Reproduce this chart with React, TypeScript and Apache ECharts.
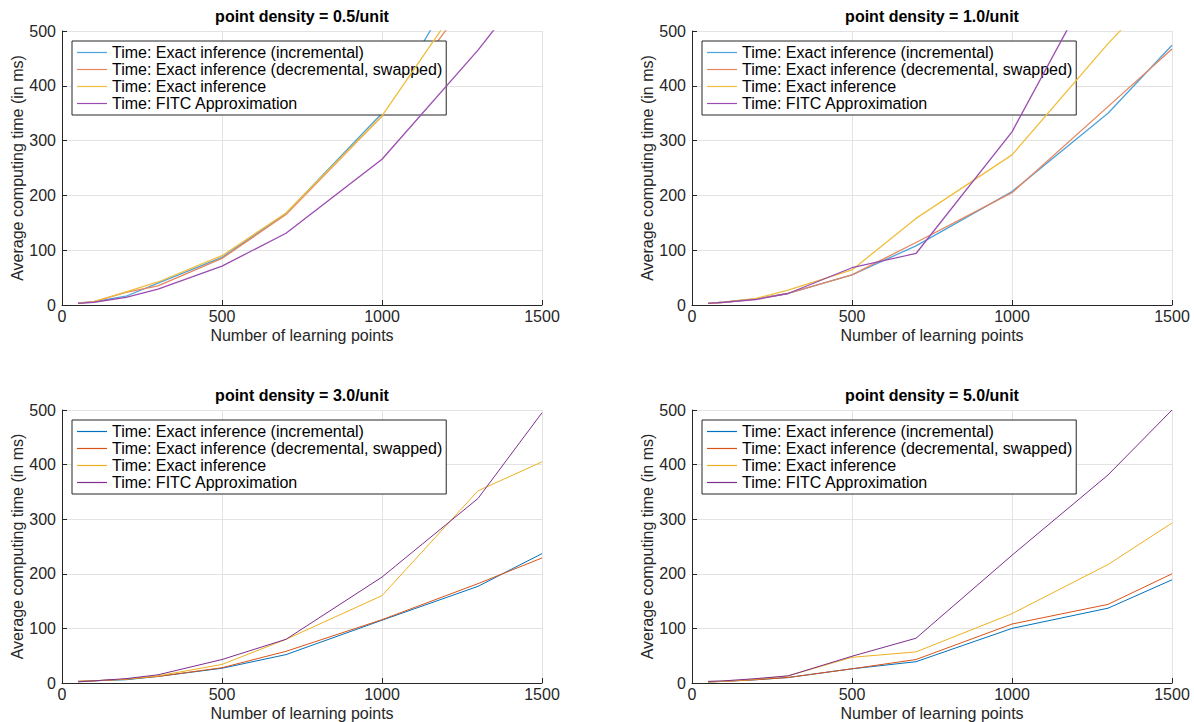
import React, { useEffect, useRef } from "react";
import * as echarts from "echarts";

const xPoints = [50, 100, 200, 300, 500, 700, 1000, 1300, 1500];
const seriesNames = [
  "Time: Exact inference (incremental)",
  "Time: Exact inference (decremental, swapped)",
  "Time: Exact inference",
  "Time: FITC Approximation",
];
const panelTitles = [
  "point density = 0.5/unit",
  "point density = 1.0/unit",
  "point density = 3.0/unit",
  "point density = 5.0/unit",
];
const xTicks = [0, 500, 1000, 1500];
const yTicks = [0, 100, 200, 300, 400, 500];

// density 0.5
const inc05 = [4, 6, 16, 40, 87, 167, 350, 650, 900];
const dec05 = [3, 6, 23, 35, 85, 165, 345, 580, 800];
const exa05 = [3, 6, 24, 42, 90, 168, 345, 600, 830];
const fitc05 = [3, 5, 14, 29, 71, 131, 266, 465, 614];
// density 1.0
const inc10 = [3, 5, 11, 21, 55, 108, 207, 350, 474];
const dec10 = [3, 5, 11, 21, 55, 114, 205, 362, 467];
const exa10 = [3, 5, 12, 27, 64, 158, 274, 477, 600];
const fitc10 = [3, 5, 10, 21, 68, 94, 316, 640, 880];
// density 3.0
const inc30 = [3, 4, 6, 12, 27, 52, 115, 177, 237];
const dec30 = [3, 4, 7, 12, 28, 58, 116, 182, 229];
const exa30 = [3, 4, 7, 13, 34, 80, 160, 352, 405];
const fitc30 = [2, 4, 8, 15, 43, 80, 194, 338, 495];
// density 5.0
const inc50 = [2, 3, 6, 10, 26, 39, 100, 137, 189];
const dec50 = [2, 3, 6, 10, 26, 43, 108, 144, 200];
const exa50 = [2, 3, 7, 13, 47, 57, 127, 217, 293];
const fitc50 = [3, 4, 8, 13, 49, 82, 234, 381, 500];

const panelData = [
  [inc05, dec05, exa05, fitc05],
  [inc10, dec10, exa10, fitc10],
  [inc30, dec30, exa30, fitc30],
  [inc50, dec50, exa50, fitc50],
];

const topColors = ["#4da3dc", "#e6855f", "#efbe3c", "#9a4cb0"];
const bottomColors = ["#0072BD", "#D95319", "#EDB120", "#7E2F8E"];

const FONT = "'Liberation Sans', Helvetica, Arial, sans-serif";
const TXT = "#262626";

const grids = [
  { left: 62, top: 31 },
  { left: 692, top: 31 },
  { left: 62, top: 410 },
  { left: 692, top: 410 },
];
const GW = 480;
const GH = 274;

export default function App() {
  const ref = useRef<HTMLDivElement>(null);
  useEffect(() => {
    if (!ref.current) return;
    const chart = echarts.init(ref.current, null, { renderer: "svg" });
    const colorsFor = (i: number) => (i < 2 ? topColors : bottomColors);
    const option: any = {
      animation: false,
      backgroundColor: "#ffffff",
      textStyle: { fontFamily: FONT },
      title: grids.map((g, i) => ({
        text: panelTitles[i],
        left: g.left + GW / 2,
        top: g.top - 23,
        textAlign: "center",
        padding: 0,
        textStyle: { fontSize: 16, fontWeight: "bold", color: "#000", fontFamily: FONT },
      })),
      grid: grids.map((g) => ({ left: g.left, top: g.top, width: GW, height: GH })),
      legend: grids.map((g, i) => ({
        orient: "vertical",
        left: g.left + 10,
        top: g.top + 10,
        backgroundColor: "#ffffff",
        borderColor: TXT,
        borderWidth: 1,
        borderRadius: 0,
        padding: [3, 4, 3, 5],
        itemGap: 0,
        itemWidth: 30,
        itemHeight: 17,
        selectedMode: false,
        textStyle: { fontSize: 16, color: "#000", fontFamily: FONT, lineHeight: 17 },
        data: seriesNames.map((n, k) => ({
          name: n,
          icon: "path://M0,8 L30,8 L30,9.2 L0,9.2 Z",
          itemStyle: { color: colorsFor(i)[k] },
        })),
      })),
      xAxis: grids.map((g, i) => ({
        type: "value",
        gridIndex: i,
        min: xTicks[0],
        max: xTicks[xTicks.length - 1],
        interval: 500,
        name: "Number of learning points",
        nameLocation: "middle",
        nameGap: 22,
        nameTextStyle: { fontSize: 16, color: TXT, fontFamily: FONT },
        axisLine: { show: true, onZero: false, lineStyle: { color: TXT, width: 1 } },
        axisTick: { show: true, inside: true, length: 5, lineStyle: { color: TXT } },
        axisLabel: {
          fontSize: 16,
          color: TXT,
          margin: 3,
          fontFamily: FONT,
          formatter: (v: number) => String(v),
        },
        splitLine: { show: true, lineStyle: { color: "#e3e3e3", width: 1 } },
      })),
      yAxis: grids.map((g, i) => ({
        type: "value",
        gridIndex: i,
        min: yTicks[0],
        max: yTicks[yTicks.length - 1],
        interval: 100,
        name: "Average computing time (in ms)",
        nameLocation: "middle",
        nameGap: 36,
        nameTextStyle: { fontSize: 16, color: TXT, fontFamily: FONT },
        axisLine: { show: true, onZero: false, lineStyle: { color: TXT, width: 1 } },
        axisTick: { show: true, inside: true, length: 5, lineStyle: { color: TXT } },
        axisLabel: {
          fontSize: 16,
          color: TXT,
          margin: 6,
          fontFamily: FONT,
          formatter: (v: number) => String(v),
        },
        splitLine: { show: true, lineStyle: { color: "#e3e3e3", width: 1 } },
      })),
      series: panelData.flatMap((arrs, i) =>
        arrs.map((vals, k) => ({
          type: "line",
          name: seriesNames[k],
          xAxisIndex: i,
          yAxisIndex: i,
          symbol: "none",
          clip: true,
          data: xPoints.map((x, j) => [x, vals[j]]),
          lineStyle: { color: colorsFor(i)[k], width: i < 2 ? 1.3 : 1 },
          itemStyle: { color: colorsFor(i)[k] },
          z: 2 + k,
        }))
      ),
    };
    chart.setOption(option);
    return () => chart.dispose();
  }, []);
  return (
    <div
      ref={ref}
      style={{ position: "fixed", left: 0, top: 0, width: 1194, height: 722 }}
    />
  );
}
